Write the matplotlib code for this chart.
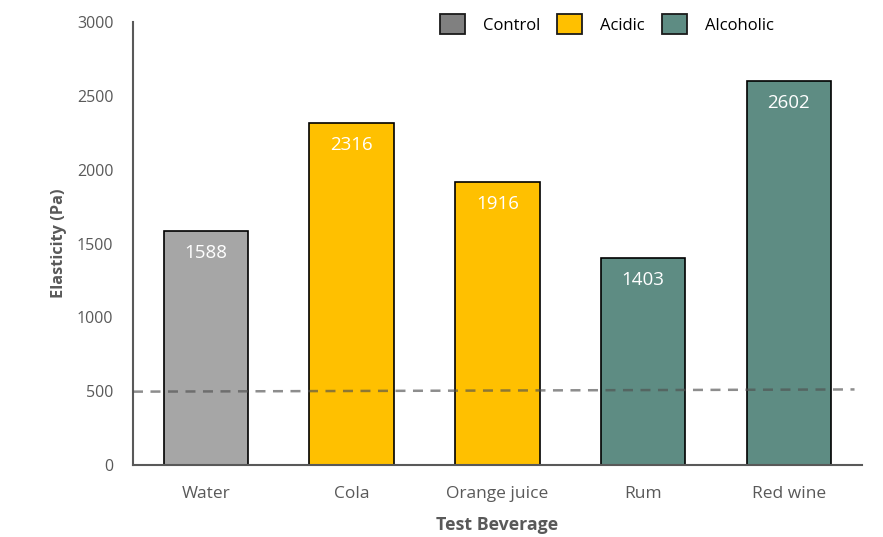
import matplotlib
matplotlib.use("Agg")
import matplotlib.pyplot as plt
from matplotlib.patches import Patch

categories = ["Water", "Cola", "Orange juice", "Rum", "Red wine"]
values = [1588, 2316, 1916, 1403, 2602]
groups = ["Control", "Acidic", "Acidic", "Alcoholic", "Alcoholic"]
group_colors = {"Control": "#A6A6A6", "Acidic": "#FFC000", "Alcoholic": "#5E8C83"}
legend_labels = ["Control", "Acidic", "Alcoholic"]
legend_colors = ["#808080", "#FFC000", "#5E8C83"]
threshold_line = [497, 512]
yticks = [0, 500, 1000, 1500, 2000, 2500, 3000]

plt.rcParams['font.family'] = ['Open Sans', 'DejaVu Sans']

fig = plt.figure(figsize=(8.83, 5.37), dpi=100)
ax = fig.add_axes([0.1506, 0.134, 0.976 - 0.1506, 0.959 - 0.134])

x = list(range(len(categories)))
bars = ax.bar(x, values, width=0.58, color=[group_colors[g] for g in groups],
              edgecolor="black", linewidth=1.2, zorder=2)
for xi, v in zip(x, values):
    ax.text(xi, v - 150, str(v), ha="center", va="center", color="white", fontsize=13.5, zorder=3)

ax.plot([-0.5, 4.45], threshold_line, linestyle=(0, (4, 3)), color="#505050", alpha=0.65,
        linewidth=1.8, zorder=4)

ax.set_xlim(-0.5, 4.5)
ax.set_ylim(0, 3000)
ax.set_yticks(yticks)
ax.set_xticks(x)
ax.set_xticklabels(categories)
ax.tick_params(axis="y", length=0, labelsize=11.5, colors="#595959", pad=14)
ax.tick_params(axis="x", length=0, labelsize=12.5, colors="#595959", pad=15)
for s in ["top", "right"]:
    ax.spines[s].set_visible(False)
for s in ["left", "bottom"]:
    ax.spines[s].set_color("#595959")
    ax.spines[s].set_linewidth(1.5)

ax.set_ylabel("Elasticity (Pa)", fontsize=11.8, fontweight="bold", color="#595959", labelpad=7)
ax.set_xlabel("Test Beverage", fontsize=12.8, fontweight="bold", color="#595959", labelpad=10)

handles = [Patch(facecolor=c, edgecolor="#1a1a1a", linewidth=1.3, label=l)
           for l, c in zip(legend_labels, legend_colors)]
fig.legend(handles=handles, loc="center", bbox_to_anchor=(0.687, 0.955), ncol=3, frameon=False,
           fontsize=12, handlelength=1.5, handleheight=1.5, columnspacing=1.0, handletextpad=1.1)

fig.savefig("out.png", dpi=100)
